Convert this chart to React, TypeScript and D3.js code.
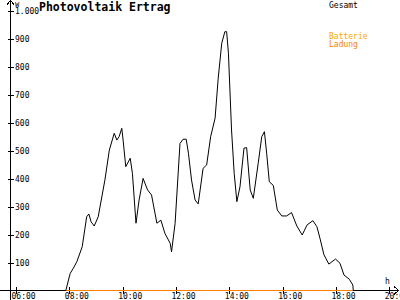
import React from "react";
import * as d3 from "d3";

const times = ["07:52","08:02","08:09","08:17","08:29","08:39","08:44","08:49","08:56","09:05","09:20","09:30","09:41","09:47","09:52","09:58","10:01","10:07","10:17","10:22","10:30","10:37","10:46","10:56","11:05","11:17","11:26","11:35","11:47","11:50","11:58","12:09","12:16","12:23","12:28","12:35","12:43","12:50","13:01","13:09","13:18","13:28","13:35","13:43","13:50","13:54","13:58","14:05","14:11","14:17","14:24","14:33","14:39","14:47","14:54","15:05","15:13","15:19","15:24","15:30","15:39","15:48","15:58","16:09","16:20","16:32","16:44","16:55","17:08","17:17","17:24","17:33","17:44","17:59","18:09","18:18","18:30","18:38","18:39"];
const gesamt = [0,62,80,104,157,264,274,246,231,264,395,502,562,538,550,580,538,443,473,419,241,324,401,360,342,241,252,205,169,139,241,526,541,541,491,395,324,310,437,449,550,616,759,884,925,925,848,574,419,318,371,509,511,360,330,455,550,568,491,389,376,288,267,267,279,231,199,235,250,229,187,128,95,113,98,56,41,20,0];
const batterieLadung = times.map(() => 0);

const xTickHours = [6, 8, 10, 12, 14, 16, 18, 20];
const xTickLabels = ["06:00", "08:00", "10:00", "12:00", "14:00", "16:00", "18:00", "20:00"];
const yTicks = [100, 200, 300, 400, 500, 600, 700, 800, 900, 1000];
const yTickLabels = ["100", "200", "300", "400", "500", "600", "700", "800", "900", "1.000"];

const title = "Photovoltaik Ertrag";
const legendGesamt = "Gesamt";
const legendBatterie = ["Batterie", "Ladung"];

const toHour = (t: string) => {
  const [h, m] = t.split(":").map(Number);
  return h + m / 60;
};

export default function App() {
  const W = 400, H = 300;
  const x = d3.scaleLinear().domain([6, 20]).range([16, 389.3]);
  const y = d3.scaleLinear().domain([0, 1000]).range([290.7, 10.7]);
  const axisX = 10.5;
  const axisY = 290.5;
  const mono = "'DejaVu Sans Mono', monospace";

  const line = d3
    .line<[number, number]>()
    .x((d) => x(d[0]))
    .y((d) => y(d[1]));
  const pts: [number, number][] = times.map((t, i) => [toHour(t), gesamt[i]]);
  const batPts: [number, number][] = times.map((t, i) => [toHour(t), batterieLadung[i]]);
  const batLine = d3
    .line<[number, number]>()
    .x((d) => x(d[0]))
    .y(() => axisY);

  return (
    <svg
      width={W}
      height={H}
      style={{ position: "absolute", left: 0, top: 0, background: "#fff" }}
      fontFamily={mono}
    >
      <rect x={0} y={0} width={W} height={H} fill="#fff" />
      {/* x axis */}
      <line x1={0} y1={axisY} x2={398} y2={axisY} stroke="#000" shapeRendering="crispEdges" />
      <path d={`M394,286.5 L398.5,290.5 L394,294.5`} fill="none" stroke="#000" shapeRendering="crispEdges" />
      {/* y axis */}
      <line x1={axisX} y1={1} x2={axisX} y2={300} stroke="#000" shapeRendering="crispEdges" />
      <path d={`M7,4.5 L10.5,0.5 L14,4.5`} fill="none" stroke="#000" shapeRendering="crispEdges" />
      <text x={15} y={7} fontSize={7} fill="#000">W</text>
      <text x={385} y={283.5} fontSize={8} fill="#000">h</text>

      {yTicks.map((v, i) => (
        <g key={v}>
          <line x1={8} x2={14} y1={Math.round(y(v)) + 0.5} y2={Math.round(y(v)) + 0.5} stroke="#000" shapeRendering="crispEdges" />
          <text x={15} y={y(v) + 3} fontSize={8} fill="#000">{yTickLabels[i]}</text>
        </g>
      ))}
      {xTickHours.map((h, i) => (
        <g key={h}>
          <line x1={Math.round(x(h)) + 0.5} x2={Math.round(x(h)) + 0.5} y1={287} y2={294} stroke="#000" shapeRendering="crispEdges" />
          <text x={x(h) - 4.5} y={298.5} fontSize={8} fill="#000">{xTickLabels[i]}</text>
        </g>
      ))}

      <path d={batLine(batPts) || ""} fill="none" stroke="#ff8000" strokeWidth={1} shapeRendering="crispEdges" />
      <path d={line(pts) || ""} fill="none" stroke="#000" strokeWidth={1} />

      <text x={39} y={11} fontSize={11.5} fontWeight="bold" fill="#000">{title}</text>
      <text x={329} y={7.5} fontSize={8} fill="#000">{legendGesamt}</text>
      <text x={329} y={38.5} fontSize={8} fill="#ffa500">{legendBatterie[0]}</text>
      <text x={329} y={46.5} fontSize={8} fill="#ff8000">{legendBatterie[1]}</text>
    </svg>
  );
}
